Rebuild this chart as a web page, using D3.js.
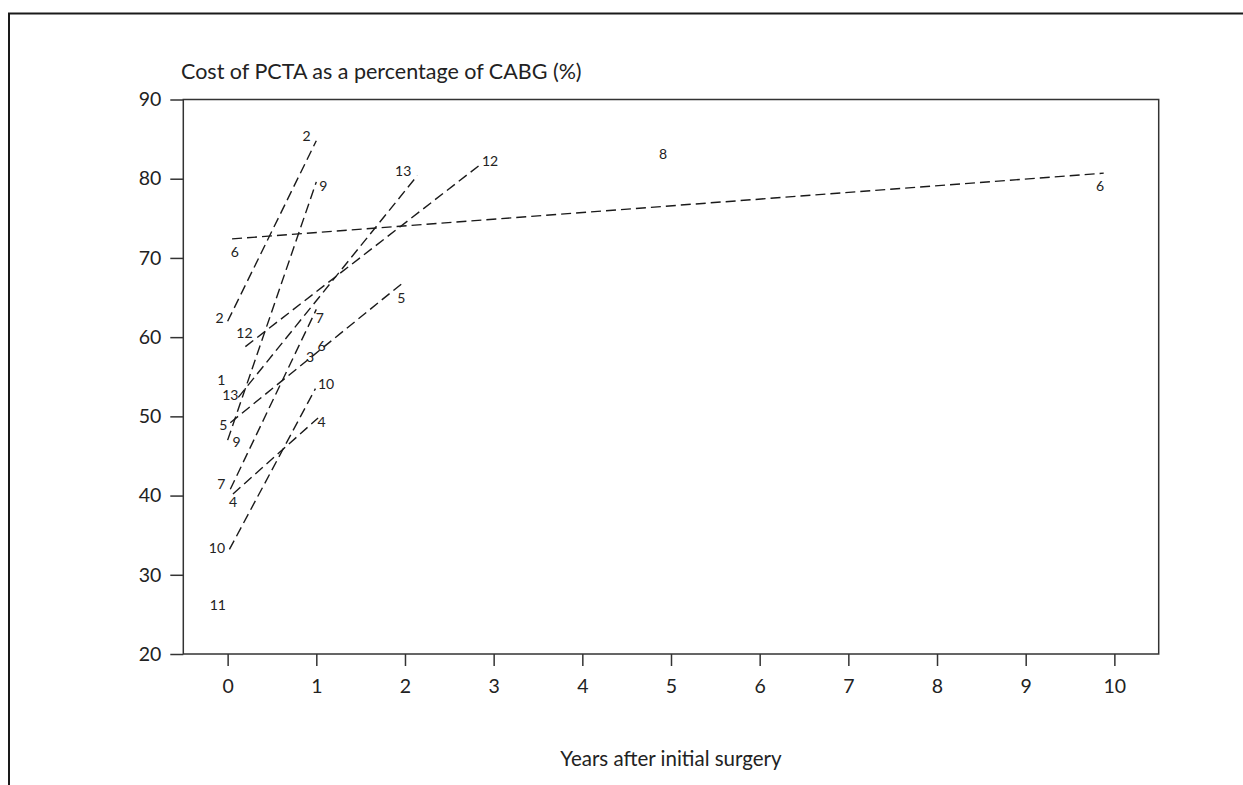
<!DOCTYPE html>
<html>
<head>
<meta charset="utf-8">
<script src="https://cdn.jsdelivr.net/npm/d3@7"></script>
<style>
  html, body { margin: 0; padding: 0; background: #fff; }
  svg { display: block; }
  text { font-family: Lato, "Open Sans", sans-serif; fill: #222; }
</style>
</head>
<body>
<svg id="chart" width="1243" height="785"></svg>
<script>
// ---- data ----
const xTickValues = [0, 1, 2, 3, 4, 5, 6, 7, 8, 9, 10];
const yTickValues = [20, 30, 40, 50, 60, 70, 80, 90];
const yTitle = "Cost of PCTA as a percentage of CABG (%)";
const xTitle = "Years after initial surgery";

// study trend segments: [study, startYear, startValue, endYear, endValue]
const studyIds   = ["2", "9", "6", "13", "12", "5", "7", "4", "10"];
const startYears = [0.0, 0.0, 0.05, 0.12, 0.2, 0.03, 0.03, 0.06, 0.02];
const startVals  = [62.0, 47.0, 72.4, 52.4, 58.8, 49.2, 40.8, 40.2, 33.2];
const endYears   = [1.0, 1.0, 9.88, 2.14, 2.84, 1.97, 1.0, 1.02, 0.99];
const endVals    = [84.8, 79.6, 80.7, 80.4, 81.7, 66.8, 63.5, 49.8, 53.5];

// study number labels: text, year, value
const labelTexts  = ["2", "2", "9", "9", "6", "6", "6", "12", "12", "13", "13", "5", "5",
                     "7", "7", "4", "4", "10", "10", "1", "3", "8", "11"];
const labelYears  = [-0.09, 0.89, 0.10, 1.08, 0.08, 1.06, 9.84, 0.19, 2.96, 0.03, 1.98, -0.05, 1.96,
                     -0.07, 1.04, 0.06, 1.06, -0.12, 1.11, -0.07, 0.93, 4.91, -0.11];
const labelVals   = [62.5, 85.5, 46.8, 79.2, 70.8, 59.0, 79.1, 60.6, 82.3, 52.7, 81.1, 49.0, 65.0,
                     41.5, 62.5, 39.2, 49.3, 33.5, 54.1, 54.6, 57.5, 83.2, 26.3];

// ---- layout ----
const svg = d3.select("#chart");
const plot = { left: 183.3, right: 1158.7, top: 99.5, bottom: 654 };

const x = d3.scaleLinear().domain([-0.5, 10.5]).range([plot.left, plot.right]);
const y = d3.scaleLinear().domain([20, 90]).range([plot.bottom, plot.top]);

// outer frame (top and left edges visible)
svg.append("path")
  .attr("d", `M9,785 L9,13.5 L1243,13.5`)
  .attr("fill", "none").attr("stroke", "#1a1a1a").attr("stroke-width", 2);

// plot box
svg.append("rect")
  .attr("x", plot.left).attr("y", plot.top)
  .attr("width", plot.right - plot.left).attr("height", plot.bottom - plot.top)
  .attr("fill", "none").attr("stroke", "#333").attr("stroke-width", 1.5);

// axes
const yAxis = d3.axisLeft(y).tickValues(yTickValues).tickSize(13).tickPadding(9)
  .tickFormat(d3.format("d"));
const gy = svg.append("g").attr("transform", `translate(${plot.left},0)`).call(yAxis);
gy.select(".domain").remove();
gy.selectAll(".tick line").attr("stroke", "#333").attr("stroke-width", 1.5);
gy.selectAll(".tick text").attr("font-size", 19.5).attr("fill", "#222")
  .style("font-family", "Lato, sans-serif");

const xAxis = d3.axisBottom(x).tickValues(xTickValues).tickSize(12).tickPadding(13)
  .tickFormat(d3.format("d"));
const gx = svg.append("g").attr("transform", `translate(0,${plot.bottom})`).call(xAxis);
gx.select(".domain").remove();
gx.selectAll(".tick line").attr("stroke", "#333").attr("stroke-width", 1.5);
gx.selectAll(".tick text").attr("font-size", 19.5).attr("fill", "#222")
  .style("font-family", "Lato, sans-serif");

// titles
svg.append("text").attr("x", 181).attr("y", 79).attr("font-size", 21.5).text(yTitle);
svg.append("text").attr("x", (x(0) + x(10)) / 2).attr("y", 766)
  .attr("text-anchor", "middle").attr("font-size", 20.5).text(xTitle);

// trend segments
const segs = studyIds.map((id, i) => ({
  id, x0: startYears[i], y0: startVals[i], x1: endYears[i], y1: endVals[i]
}));
svg.append("g").selectAll("line").data(segs).join("line")
  .attr("x1", d => x(d.x0)).attr("y1", d => y(d.y0))
  .attr("x2", d => x(d.x1)).attr("y2", d => y(d.y1))
  .attr("stroke", "#1a1a1a").attr("stroke-width", 1.4)
  .attr("stroke-dasharray", "10,5");

// labels
const labels = labelTexts.map((t, i) => ({ t, xv: labelYears[i], yv: labelVals[i] }));
svg.append("g").selectAll("text").data(labels).join("text")
  .attr("x", d => x(d.xv)).attr("y", d => y(d.yv))
  .attr("text-anchor", "middle").attr("dominant-baseline", "central")
  .attr("font-size", 14).text(d => d.t);
</script>
</body>
</html>
